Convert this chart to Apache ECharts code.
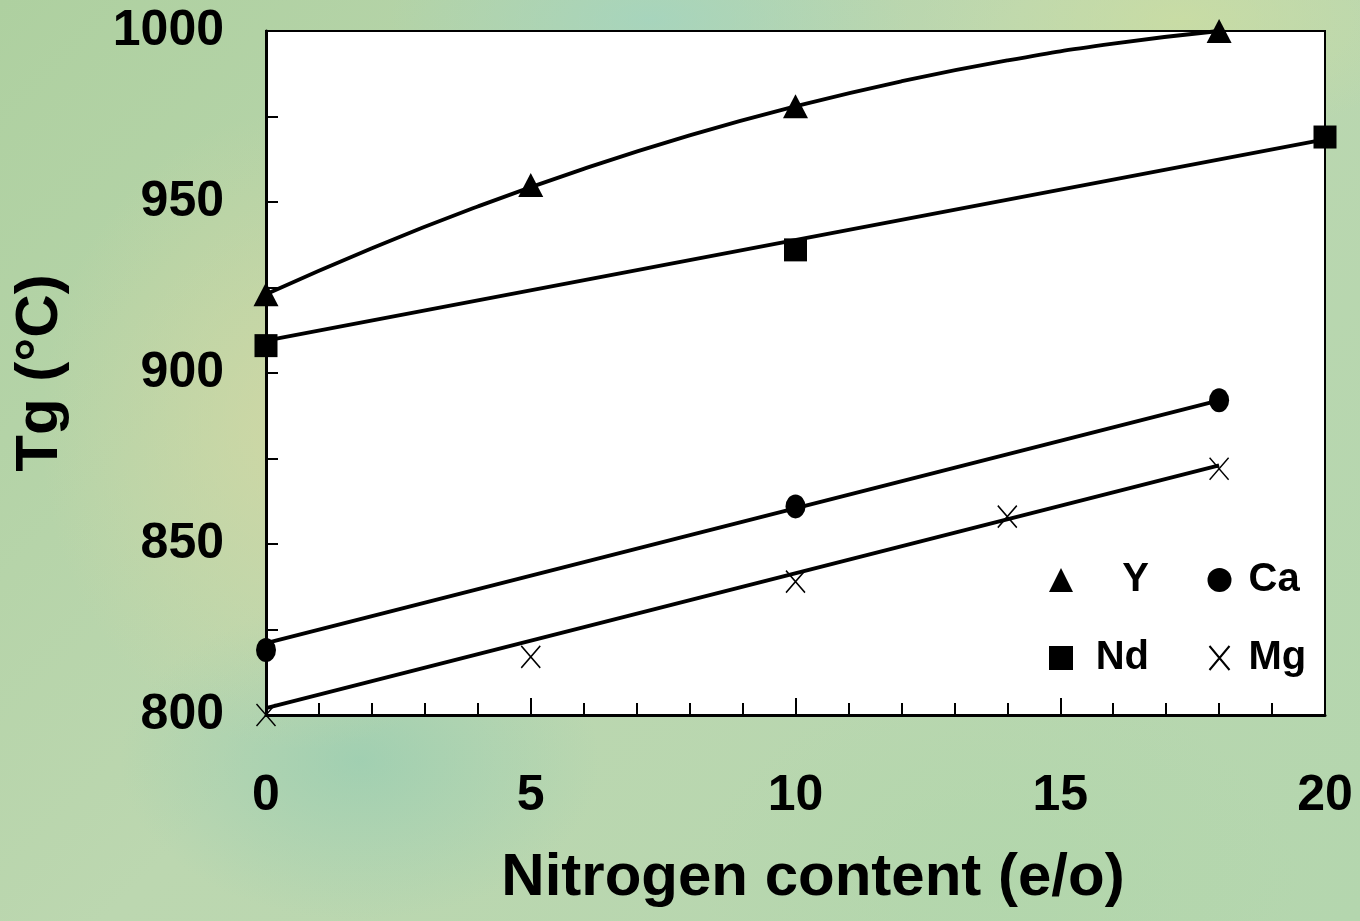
<!DOCTYPE html>
<html>
<head>
<meta charset="utf-8">
<script src="https://cdn.jsdelivr.net/npm/echarts@6/dist/echarts.min.js"></script>
<style>
html,body{margin:0;padding:0;width:1360px;height:921px;overflow:hidden;}
body{
  background:
    radial-gradient(ellipse 260px 320px at 300px 430px, rgba(214,216,162,0.75), rgba(214,216,162,0) 100%),
    radial-gradient(ellipse 260px 120px at 650px 20px, rgba(160,212,196,0.7), rgba(160,212,196,0) 100%),
    radial-gradient(ellipse 260px 120px at 1180px 20px, rgba(206,222,160,0.7), rgba(206,222,160,0) 100%),
    radial-gradient(ellipse 240px 160px at 360px 760px, rgba(150,204,178,0.7), rgba(150,204,178,0) 100%),
    radial-gradient(ellipse 300px 200px at 1000px 880px, rgba(176,214,170,0.6), rgba(176,214,170,0) 100%),
    linear-gradient(135deg, #aed0a0 0%, #bcd7b0 45%, #b4d6ae 100%);
}
#chart{width:1360px;height:921px;}
</style>
</head>
<body>
<div id="chart"></div>
<script>
// ---- data ----
const xTickLabels = [0, 5, 10, 15, 20];
const yTickLabels = [800, 850, 900, 950, 1000];

// measured points (Nitrogen e/o, Tg °C)
const yX  = [0, 5, 10, 18];
const yTg = [923, 955, 978, 1000];
const ndX  = [0, 10, 20];
const ndTg = [908, 936, 969];
const caX  = [0, 10, 18];
const caTg = [819, 861, 892];
const mgX  = [0, 5, 10, 14, 18];
const mgTg = [800, 817, 839, 858, 872];

// trend lines
const yFitX  = [0, 2, 4, 6, 8, 10, 12, 14, 16, 18];
const yFitTg = [923, 936.5, 948.7, 959.7, 969.5, 978, 985.3, 991.4, 996.3, 1000];
const ndFitX  = [0, 20];
const ndFitTg = [909.5, 968.3];
const caFitX  = [0, 18];
const caFitTg = [821, 892];
const mgFitX  = [0, 18];
const mgFitTg = [802, 873];

const pairs = (xs, ys) => xs.map((x, i) => [x, ys[i]]);

const FONT = "'Liberation Sans', Arial, Helvetica, sans-serif";
const chart = echarts.init(document.getElementById('chart'), null, {renderer: 'canvas'});

const fitLine = (xs, ys, smooth) => ({
  type: 'line', data: pairs(xs, ys), symbol: 'none', smooth: smooth ? 0.5 : false,
  lineStyle: {color: '#000', width: 3.8}, silent: true, z: 3, clip: false
});

const option = {
  animation: false,
  backgroundColor: 'transparent',
  textStyle: {fontFamily: FONT, color: '#000'},
  grid: {
    left: 266, right: 35, top: 31, bottom: 206,
    show: true, backgroundColor: '#fff', borderColor: '#000', borderWidth: 2
  },
  xAxis: {
    type: 'value', min: 0, max: 20, interval: 5,
    name: 'Nitrogen content (e/o)', nameLocation: 'middle', nameGap: 133,
    nameTextStyle: {fontSize: 60, fontWeight: 'bold', color: '#000', fontFamily: FONT, padding: [0, 0, 0, 35]},
    axisLine: {show: true, onZero: false, lineStyle: {color: '#000', width: 3}},
    axisTick: {show: true, inside: true, length: 17, lineStyle: {color: '#000', width: 2}},
    minorTick: {show: true, splitNumber: 5, length: 12, lineStyle: {color: '#000', width: 2}},
    axisLabel: {
      margin: 56, fontSize: 50, fontWeight: 'bold', color: '#000', fontFamily: FONT,
      formatter: v => xTickLabels.includes(v) ? String(v) : ''
    },
    splitLine: {show: false}, minorSplitLine: {show: false}
  },
  yAxis: {
    type: 'value', min: 800, max: 1000, interval: 25,
    name: 'Tg (°C)', nameLocation: 'middle', nameRotate: 90, nameGap: 196,
    nameTextStyle: {fontSize: 60, fontWeight: 'bold', color: '#000', fontFamily: FONT},
    axisLine: {show: true, onZero: false, lineStyle: {color: '#000', width: 3}},
    axisTick: {show: true, inside: true, length: 12, lineStyle: {color: '#000', width: 2}},
    axisLabel: {
      margin: 42, fontSize: 50, fontWeight: 'bold', color: '#000', fontFamily: FONT,
      formatter: v => yTickLabels.includes(v) ? String(v) : ''
    },
    splitLine: {show: false}
  },
  legend: [
    {
      data: ['Y', 'Nd'], orient: 'vertical', left: 1044, top: 555,
      itemWidth: 24, itemHeight: 24, itemGap: 38,
      formatter: n => '{r|' + n + '}',
      textStyle: {rich: {r: {width: 71, align: 'right', fontSize: 40, lineHeight: 40, fontWeight: 'bold', color: '#000', fontFamily: FONT}}},
      selectedMode: false
    },
    {
      data: ['Ca', 'Mg'], orient: 'vertical', left: 1202, top: 555,
      itemWidth: 24, itemHeight: 24, itemGap: 38,
      formatter: n => '{l|' + n + '}',
      textStyle: {rich: {l: {align: 'left', fontSize: 40, lineHeight: 40, fontWeight: 'bold', color: '#000', fontFamily: FONT, padding: [0, 0, 0, 12]}}},
      selectedMode: false
    }
  ],
  series: [
    fitLine(yFitX, yFitTg, true),
    fitLine(ndFitX, ndFitTg, false),
    fitLine(caFitX, caFitTg, false),
    fitLine(mgFitX, mgFitTg, false),
    {
      name: 'Y', type: 'scatter', data: pairs(yX, yTg), symbol: 'triangle', symbolSize: [25, 24],
      itemStyle: {color: '#000', opacity: 1}, z: 5, clip: false
    },
    {
      name: 'Nd', type: 'scatter', data: pairs(ndX, ndTg), symbol: 'rect', symbolSize: [23, 23],
      itemStyle: {color: '#000', opacity: 1}, z: 5, clip: false
    },
    {
      name: 'Ca', type: 'scatter', data: pairs(caX, caTg), symbol: 'circle', symbolSize: [20, 24],
      itemStyle: {color: '#000', opacity: 1}, z: 5, clip: false
    },
    {
      name: 'Mg', type: 'scatter', data: pairs(mgX, mgTg), symbol: 'path://M0,0L10,12M10,0L0,12', symbolSize: [19, 22],
      itemStyle: {color: 'none', borderColor: '#000', borderWidth: 1.6, opacity: 1}, z: 5, clip: false
    }
  ]
};
chart.setOption(option);
</script>
</body>
</html>
